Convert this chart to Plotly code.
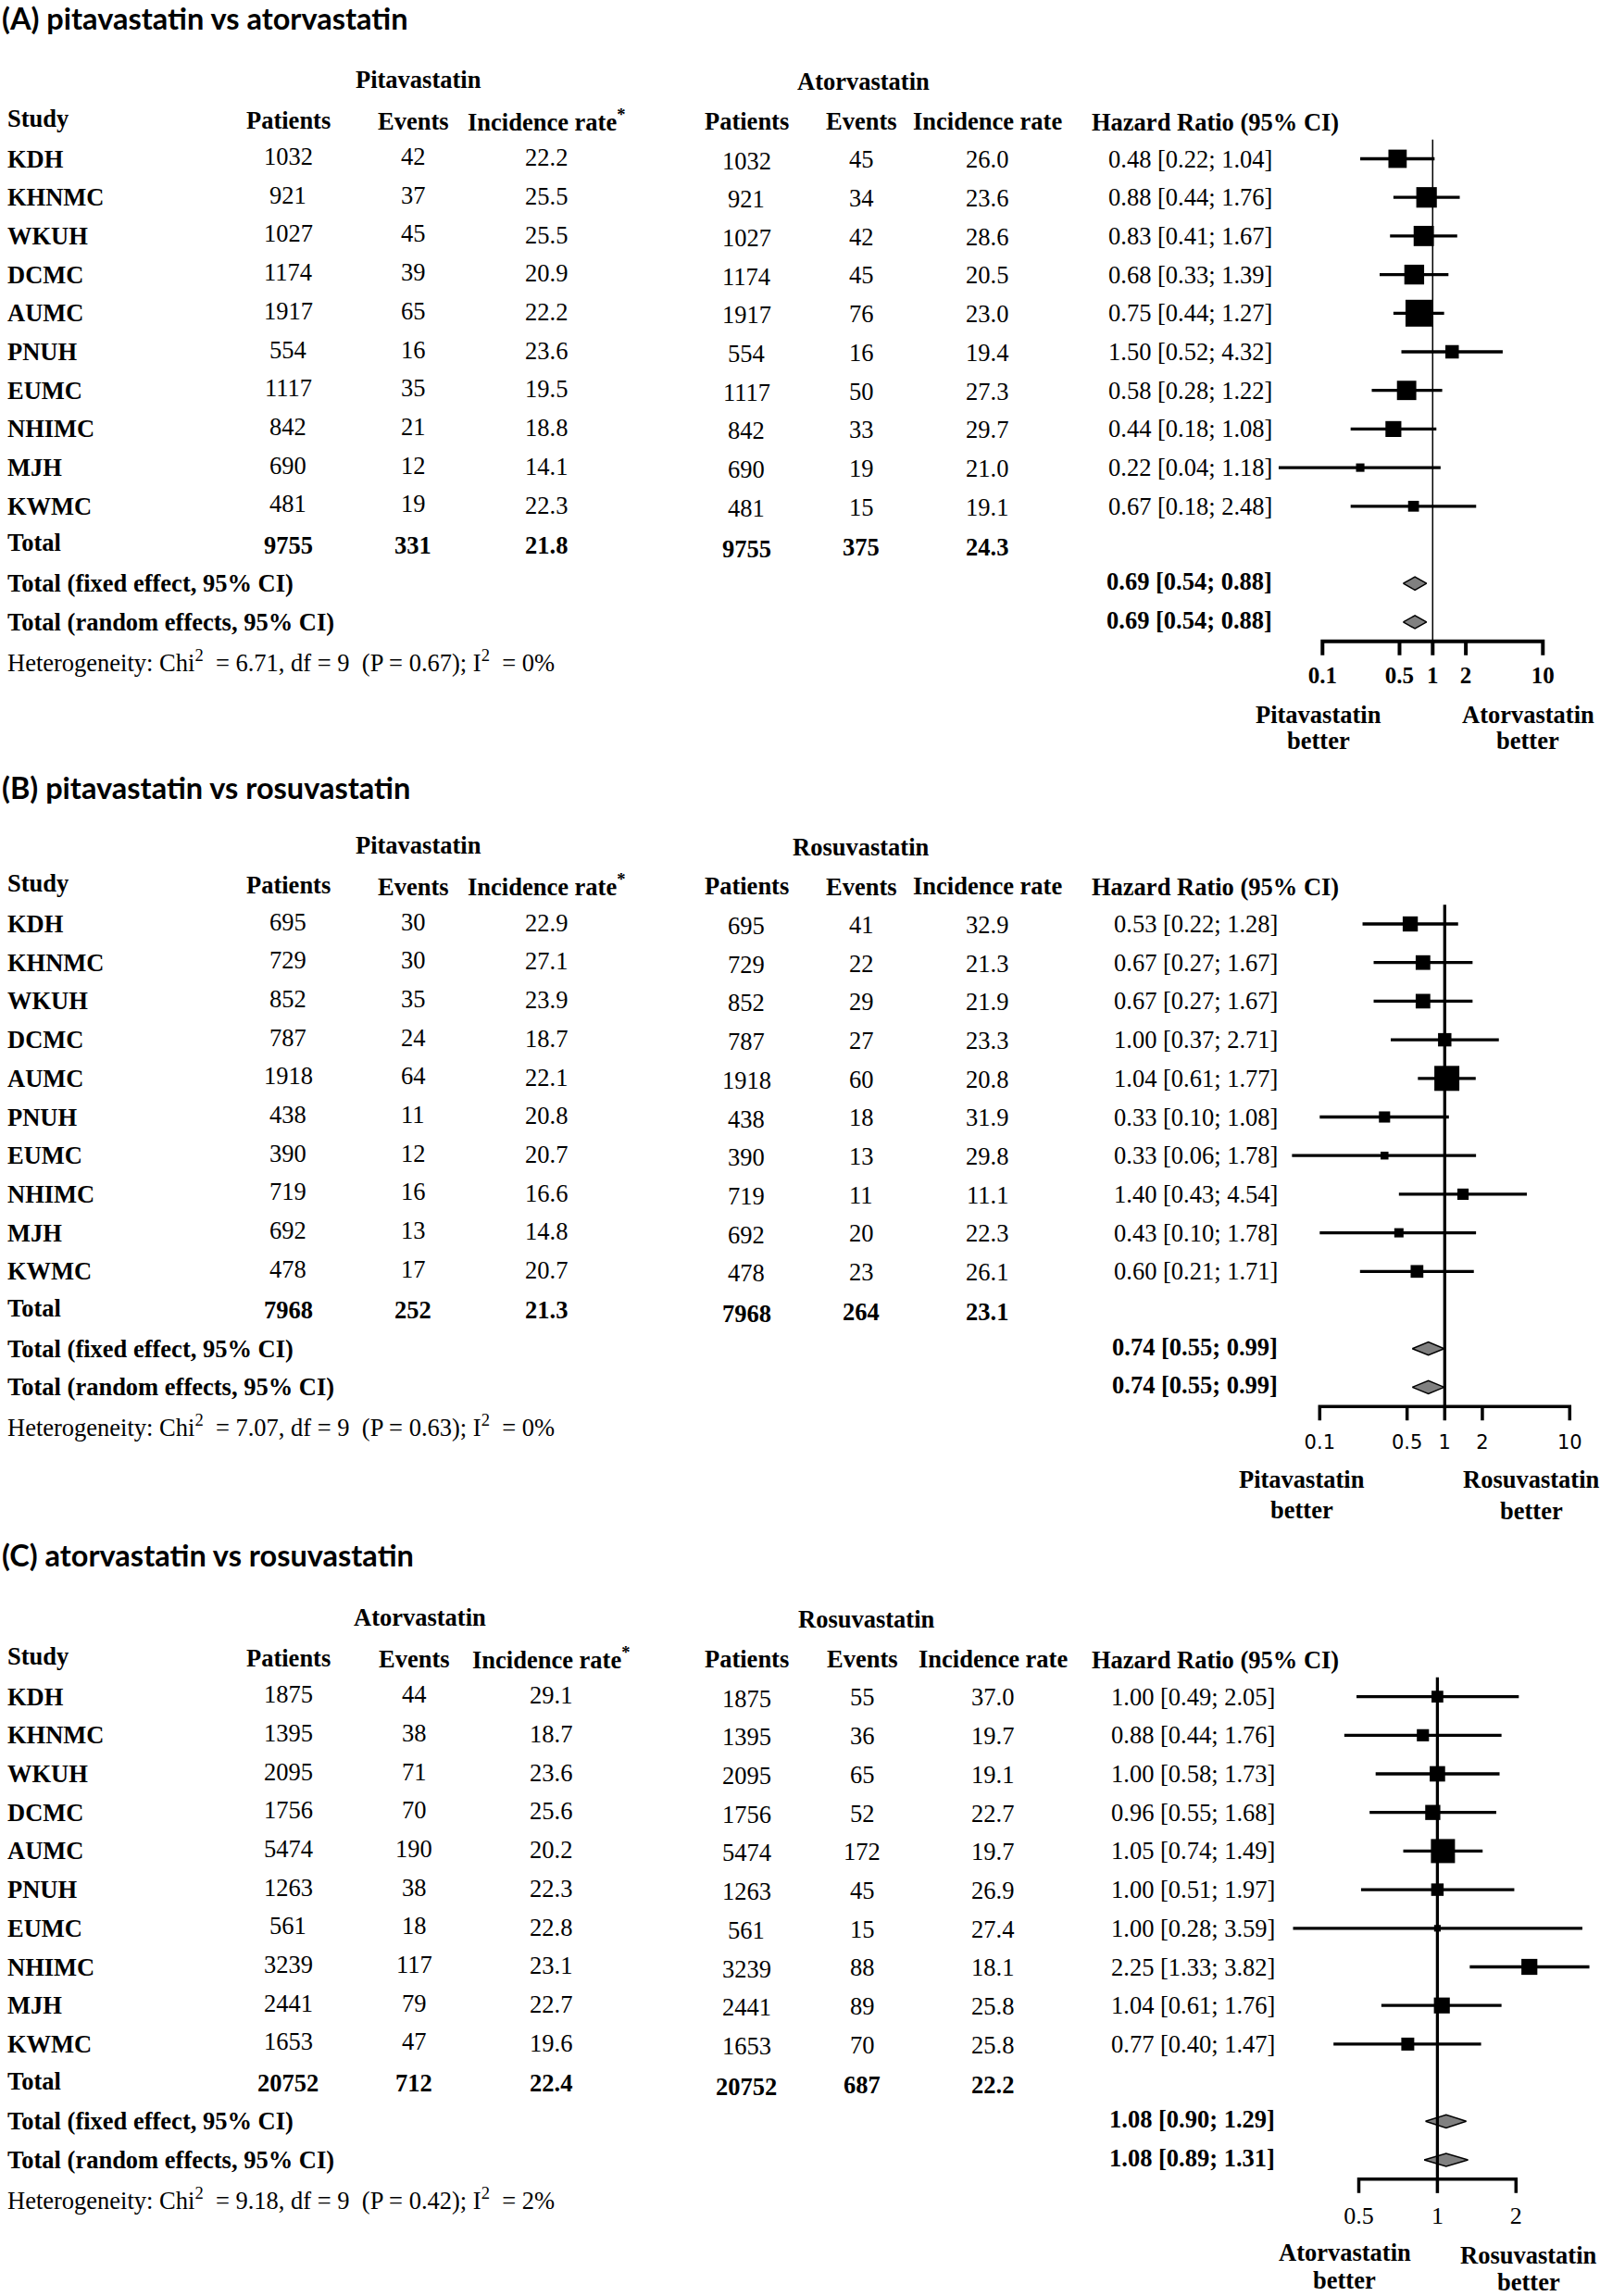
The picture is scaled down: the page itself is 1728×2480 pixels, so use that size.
import math
import plotly.graph_objects as go

W, H = 1728, 2480
studies = ["KDH", "KHNMC", "WKUH", "DCMC", "AUMC", "PNUH", "EUMC", "NHIMC", "MJH", "KWMC"]

# ---------------- Panel A data ----------------
a_title = "(A) pitavastatin vs atorvastatin"
a_drugs = ["Pitavastatin", "Atorvastatin"]
a_patients = [1032, 921, 1027, 1174, 1917, 554, 1117, 842, 690, 481]
a_events1 = [42, 37, 45, 39, 65, 16, 35, 21, 12, 19]
a_rate1 = [22.2, 25.5, 25.5, 20.9, 22.2, 23.6, 19.5, 18.8, 14.1, 22.3]
a_events2 = [45, 34, 42, 45, 76, 16, 50, 33, 19, 15]
a_rate2 = [26.0, 23.6, 28.6, 20.5, 23.0, 19.4, 27.3, 29.7, 21.0, 19.1]
a_hr = [0.48, 0.88, 0.83, 0.68, 0.75, 1.50, 0.58, 0.44, 0.22, 0.67]
a_lo = [0.22, 0.44, 0.41, 0.33, 0.44, 0.52, 0.28, 0.18, 0.04, 0.18]
a_hi = [1.04, 1.76, 1.67, 1.39, 1.27, 4.32, 1.22, 1.08, 1.18, 2.48]
a_total = [9755, 331, 21.8, 9755, 375, 24.3]
a_fixed = [0.69, 0.54, 0.88]
a_random = [0.69, 0.54, 0.88]
a_het = [6.71, 9, 0.67, 0]
a_ticks = [0.1, 0.5, 1, 2, 10]

# ---------------- Panel B data ----------------
b_title = "(B) pitavastatin vs rosuvastatin"
b_drugs = ["Pitavastatin", "Rosuvastatin"]
b_patients = [695, 729, 852, 787, 1918, 438, 390, 719, 692, 478]
b_events1 = [30, 30, 35, 24, 64, 11, 12, 16, 13, 17]
b_rate1 = [22.9, 27.1, 23.9, 18.7, 22.1, 20.8, 20.7, 16.6, 14.8, 20.7]
b_events2 = [41, 22, 29, 27, 60, 18, 13, 11, 20, 23]
b_rate2 = [32.9, 21.3, 21.9, 23.3, 20.8, 31.9, 29.8, 11.1, 22.3, 26.1]
b_hr = [0.53, 0.67, 0.67, 1.00, 1.04, 0.33, 0.33, 1.40, 0.43, 0.60]
b_lo = [0.22, 0.27, 0.27, 0.37, 0.61, 0.10, 0.06, 0.43, 0.10, 0.21]
b_hi = [1.28, 1.67, 1.67, 2.71, 1.77, 1.08, 1.78, 4.54, 1.78, 1.71]
b_total = [7968, 252, 21.3, 7968, 264, 23.1]
b_fixed = [0.74, 0.55, 0.99]
b_random = [0.74, 0.55, 0.99]
b_het = [7.07, 9, 0.63, 0]
b_ticks = [0.1, 0.5, 1, 2, 10]

# ---------------- Panel C data ----------------
c_title = "(C) atorvastatin vs rosuvastatin"
c_drugs = ["Atorvastatin", "Rosuvastatin"]
c_patients = [1875, 1395, 2095, 1756, 5474, 1263, 561, 3239, 2441, 1653]
c_events1 = [44, 38, 71, 70, 190, 38, 18, 117, 79, 47]
c_rate1 = [29.1, 18.7, 23.6, 25.6, 20.2, 22.3, 22.8, 23.1, 22.7, 19.6]
c_events2 = [55, 36, 65, 52, 172, 45, 15, 88, 89, 70]
c_rate2 = [37.0, 19.7, 19.1, 22.7, 19.7, 26.9, 27.4, 18.1, 25.8, 25.8]
c_hr = [1.00, 0.88, 1.00, 0.96, 1.05, 1.00, 1.00, 2.25, 1.04, 0.77]
c_lo = [0.49, 0.44, 0.58, 0.55, 0.74, 0.51, 0.28, 1.33, 0.61, 0.40]
c_hi = [2.05, 1.76, 1.73, 1.68, 1.49, 1.97, 3.59, 3.82, 1.76, 1.47]
c_total = [20752, 712, 22.4, 20752, 687, 22.2]
c_fixed = [1.08, 0.90, 1.29]
c_random = [1.08, 0.89, 1.31]
c_het = [9.18, 9, 0.42, 2]
c_ticks = [0.5, 1, 2]

panels = [
    dict(title=a_title, drugs=a_drugs, patients=a_patients, ev1=a_events1, r1=a_rate1,
         ev2=a_events2, r2=a_rate2, hr=a_hr, lo=a_lo, hi=a_hi, total=a_total,
         fixed=a_fixed, random=a_random, het=a_het, ticks=a_ticks),
    dict(title=b_title, drugs=b_drugs, patients=b_patients, ev1=b_events1, r1=b_rate1,
         ev2=b_events2, r2=b_rate2, hr=b_hr, lo=b_lo, hi=b_hi, total=b_total,
         fixed=b_fixed, random=b_random, het=b_het, ticks=b_ticks),
    dict(title=c_title, drugs=c_drugs, patients=c_patients, ev1=c_events1, r1=c_rate1,
         ev2=c_events2, r2=c_rate2, hr=c_hr, lo=c_lo, hi=c_hi, total=c_total,
         fixed=c_fixed, random=c_random, het=c_het, ticks=c_ticks),
]

SERIF = "Liberation Serif"
FS = 26.5
DY = 41.7
styles = [
    dict(y0=171.5, one=1547.3, ppd=119.0, box=29, refw=1.5, axw=4, tfam=SERIF, tsize=25, tbold=True,
         cols=[311, 446, 590, 806, 930, 1066], hr_right=1376, g=[452, 932],
         dir_x=[1424, 1650], dir_rows=[(14.39, 15.07), (14.39, 15.07)], title_row=-3.64, tick_row=13.43),
    dict(y0=998.0, one=1560.3, ppd=135.0, box=27, refw=3.3, axw=3.5, tfam="DejaVu Sans", tsize=21, tbold=False,
         cols=[311, 446, 590, 806, 930, 1066], hr_right=1382, g=[452, 930],
         dir_x=[1406, 1654], dir_rows=[(14.39, 15.18), (14.39, 15.2)], title_row=-3.53, tick_row=13.48),
    dict(y0=1832.6, one=1552.4, ppd=282.0, box=26, refw=3.3, axw=3.5, tfam=SERIF, tsize=26, tbold=False,
         cols=[311, 447, 595, 806, 931, 1072], hr_right=1379, g=[454, 936],
         dir_x=[1452, 1651], dir_rows=[(14.4, 15.12), (14.47, 15.17)], title_row=-3.68, tick_row=13.49),
]

fig = go.Figure()
annotations = []


def add_text(yref, xpx, row, txt, anchor="center", size=FS, bold=False, family=SERIF):
    if bold:
        txt = f"<b>{txt}</b>"
    annotations.append(dict(xref="paper", yref=yref, x=xpx / W, y=row, text=txt, showarrow=False,
                            xanchor=anchor, yanchor="middle",
                            font=dict(family=family, size=size, color="black")))


for k, (p, s) in enumerate(zip(panels, styles), start=1):
    xname = "x" if k == 1 else f"x{k}"
    yname = "y" if k == 1 else f"y{k}"
    xkey = "xaxis" if k == 1 else f"xaxis{k}"
    ykey = "yaxis" if k == 1 else f"yaxis{k}"

    # axes: invisible scales mapping data to pixels
    left_px = 1040.0
    fig.layout[xkey] = dict(type="log", domain=[left_px / W, 1.0],
                            range=[(left_px - s["one"]) / s["ppd"], (W - s["one"]) / s["ppd"]],
                            visible=False, anchor=yname)
    fig.layout[ykey] = dict(domain=[0, 1], range=[(H - s["y0"]) / DY, -s["y0"] / DY],
                            visible=False, anchor=xname)

    n = len(studies)
    ax_row = 12.5
    # CI lines
    cx, cy = [], []
    for i in range(n):
        cx += [p["lo"][i], p["hi"][i], None]
        cy += [i, i, None]
    fig.add_trace(go.Scatter(x=cx, y=cy, mode="lines", line=dict(color="black", width=3.3),
                             xaxis=xname, yaxis=yname, hoverinfo="skip"))
    # boxes sized by inverse-variance weight (from CI width)
    se = [(math.log(h) - math.log(l)) / (2 * 1.96) for l, h in zip(p["lo"], p["hi"])]
    smin = min(se)
    sizes = [s["box"] * smin / v for v in se]
    fig.add_trace(go.Scatter(x=p["hr"], y=list(range(n)), mode="markers",
                             marker=dict(symbol="square", size=sizes, color="black", opacity=1,
                                         line=dict(width=0)),
                             xaxis=xname, yaxis=yname, hoverinfo="skip"))
    # diamonds
    dx, dyv = [], []
    hh = 0.17
    for row, (est, lo, hi) in ((11, p["fixed"]), (12, p["random"])):
        dx += [lo, est, hi, est, lo, None]
        dyv += [row, row - hh, row, row + hh, row, None]
    fig.add_trace(go.Scatter(x=dx, y=dyv, mode="lines", fill="toself", fillcolor="#808080",
                             line=dict(color="black", width=1.5), xaxis=xname, yaxis=yname,
                             hoverinfo="skip"))
    # reference line at HR = 1
    fig.add_trace(go.Scatter(x=[1, 1], y=[-0.5, ax_row], mode="lines",
                             line=dict(color="black", width=s["refw"]),
                             xaxis=xname, yaxis=yname, hoverinfo="skip"))
    # axis line with ticks
    t = p["ticks"]
    tl = 0.36
    axx = [t[0], t[0], t[-1], t[-1], None]
    axy = [ax_row + tl, ax_row, ax_row, ax_row + tl, None]
    for v in t[1:-1]:
        axx += [v, v, None]
        axy += [ax_row, ax_row + tl, None]
    fig.add_trace(go.Scatter(x=axx, y=axy, mode="lines", line=dict(color="black", width=s["axw"]),
                             xaxis=xname, yaxis=yname, hoverinfo="skip"))
    tick_txt = [(f"<b>{v:g}</b>" if s["tbold"] else f"{v:g}") for v in t]
    fig.add_trace(go.Scatter(x=t, y=[s["tick_row"]] * len(t), mode="text", text=tick_txt,
                             textposition="middle center",
                             textfont=dict(family=s["tfam"], size=s["tsize"], color="black"),
                             xaxis=xname, yaxis=yname, hoverinfo="skip", cliponaxis=False))

    # ---------- table text ----------
    add_text(yname, 0, s["title_row"], p["title"], anchor="left", size=32.5, bold=True, family="Lato")
    add_text(yname, s["g"][0], -2.05, p["drugs"][0], bold=True)
    add_text(yname, s["g"][1], -2.0, p["drugs"][1], bold=True)
    c = s["cols"]
    add_text(yname, 6, -1.05, "Study", anchor="left", bold=True)
    add_text(yname, c[0], -1.0, "Patients", bold=True)
    add_text(yname, c[1], -0.97, "Events", bold=True)
    add_text(yname, c[2], -1.0, "Incidence rate<sup>*</sup>", bold=True)
    add_text(yname, c[3], -0.98, "Patients", bold=True)
    add_text(yname, c[4], -0.97, "Events", bold=True)
    add_text(yname, c[5], -0.98, "Incidence rate", bold=True)
    add_text(yname, 1177, -0.95, "Hazard Ratio (95% CI)", anchor="left", bold=True)
    for i in range(n):
        add_text(yname, 6, i, studies[i], anchor="left", bold=True)
        add_text(yname, c[0], i - 0.06, f"{p['patients'][i]}")
        add_text(yname, c[1], i - 0.06, f"{p['ev1'][i]}")
        add_text(yname, c[2], i - 0.03, f"{p['r1'][i]:.1f}")
        add_text(yname, c[3], i + 0.05, f"{p['patients'][i]}")
        add_text(yname, c[4], i + 0.02, f"{p['ev2'][i]}")
        add_text(yname, c[5], i + 0.02, f"{p['r2'][i]:.1f}")
        add_text(yname, s["hr_right"], i, f"{p['hr'][i]:.2f} [{p['lo'][i]:.2f}; {p['hi'][i]:.2f}]",
                 anchor="right")
    tot = p["total"]
    add_text(yname, 6, 9.95, "Total", anchor="left", bold=True)
    add_text(yname, c[0], 10.0, f"{tot[0]}", bold=True)
    add_text(yname, c[1], 10.0, f"{tot[1]}", bold=True)
    add_text(yname, c[2], 10.0, f"{tot[2]:.1f}", bold=True)
    add_text(yname, c[3], 10.1, f"{tot[3]}", bold=True)
    add_text(yname, c[4], 10.05, f"{tot[4]}", bold=True)
    add_text(yname, c[5], 10.05, f"{tot[5]:.1f}", bold=True)
    add_text(yname, 6, 11, "Total (fixed effect, 95% CI)", anchor="left", bold=True)
    add_text(yname, 6, 12, "Total (random effects, 95% CI)", anchor="left", bold=True)
    f_, r_ = p["fixed"], p["random"]
    add_text(yname, s["hr_right"], 10.95, f"{f_[0]:.2f} [{f_[1]:.2f}; {f_[2]:.2f}]", anchor="right", bold=True)
    add_text(yname, s["hr_right"], 11.95, f"{r_[0]:.2f} [{r_[1]:.2f}; {r_[2]:.2f}]", anchor="right", bold=True)
    h = p["het"]
    add_text(yname, 6, 13.0,
             f"Heterogeneity: Chi<sup>2</sup>&nbsp; = {h[0]:.2f}, df = {h[1]}&nbsp; (P = {h[2]:.2f}); "
             f"I<sup>2</sup>&nbsp; = {h[3]}%", anchor="left")
    # direction labels
    for j, lab in enumerate(p["drugs"]):
        r1, r2 = s["dir_rows"][j]
        add_text(yname, s["dir_x"][j], r1, lab, bold=True)
        add_text(yname, s["dir_x"][j], r2, "better", bold=True)

fig.update_layout(width=W, height=H, margin=dict(l=0, r=0, t=0, b=0),
                  paper_bgcolor="white", plot_bgcolor="rgba(0,0,0,0)",
                  showlegend=False, annotations=annotations)

fig.write_html("out.html", config={"displayModeBar": False},
               post_script="document.body.style.margin='0px';")
